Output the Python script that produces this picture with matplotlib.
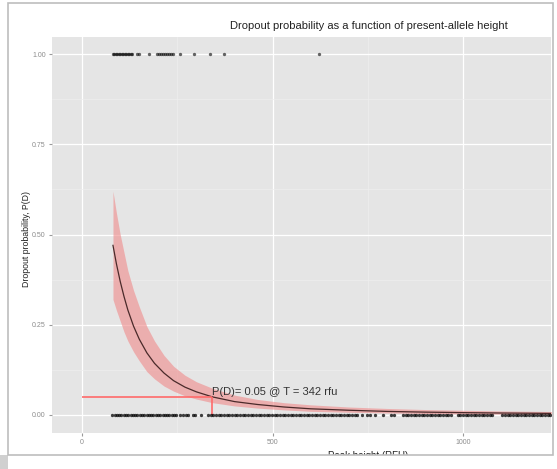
import matplotlib
matplotlib.use("Agg")
import matplotlib.pyplot as plt
from matplotlib.patches import Rectangle
import numpy as np

plt.rcParams['font.family'] = ['Liberation Sans', 'DejaVu Sans']

# 관측값: 대립유전자 탈락(1) / 검출(0) 의 peak height (RFU)
heights_dropout = [80, 84, 88, 92, 96, 100, 104, 108, 112, 116, 120, 124, 128, 131,
                   144, 150, 176, 197, 202, 207, 212, 217, 222, 227, 232, 238,
                   257, 294, 336, 373, 622]
heights_present = [79, 85, 91, 97, 103, 109, 115, 121, 127, 133, 139, 145, 151, 157,
                   163, 169, 175, 181, 187, 193, 199, 205, 211, 217, 223, 229, 235,
                   241, 247, 258, 264, 272, 279, 290, 296, 312,
                   330, 337, 344, 351, 358, 365, 372, 379, 386, 393, 400, 407, 414,
                   421, 428, 435, 442, 449, 456, 463, 470, 477, 484, 491, 498, 505,
                   512, 519, 526, 533, 540, 547, 554, 561, 568, 575, 582, 589, 596,
                   603, 610, 617, 624, 631, 638, 645, 652, 659, 666, 673, 680, 687,
                   694, 701, 708, 715, 722, 735, 748, 756, 770, 790, 812, 818,
                   842, 849, 856, 863, 870, 877, 884, 891, 898, 905, 912, 919, 926,
                   933, 940, 947, 954, 961, 968, 986, 993, 1000, 1007, 1014, 1021,
                   1028, 1035, 1042, 1049, 1056, 1063, 1070, 1077, 1103, 1110, 1117,
                   1124, 1131, 1138, 1145, 1152, 1159, 1166, 1173, 1180, 1187, 1194,
                   1201, 1208, 1215, 1222, 1229, 1236]

# 로지스틱 적합 곡선과 신뢰구간
fit_h = [81, 90, 100, 110, 120, 135, 150, 170, 190, 215, 240, 270, 300, 342,
         400, 460, 530, 600, 700, 800, 900, 1000, 1100, 1231, 1300]
fit_p = [0.470, 0.419, 0.370, 0.328, 0.291, 0.246, 0.210, 0.172, 0.143, 0.116,
         0.095, 0.077, 0.064, 0.050, 0.037, 0.029, 0.022, 0.017, 0.013, 0.0098,
         0.0078, 0.0064, 0.0053, 0.0043, 0.0039]
fit_hi = [0.62, 0.56, 0.50, 0.45, 0.40, 0.345, 0.30, 0.245, 0.205, 0.165, 0.135,
          0.11, 0.092, 0.074, 0.055, 0.043, 0.034, 0.028, 0.022, 0.018, 0.015,
          0.013, 0.011, 0.0095, 0.009]
fit_lo = [0.32, 0.29, 0.26, 0.23, 0.205, 0.175, 0.15, 0.12, 0.10, 0.08, 0.066,
          0.053, 0.044, 0.034, 0.025, 0.019, 0.014, 0.010, 0.0075, 0.0055, 0.004,
          0.003, 0.0023, 0.0017, 0.0015]

threshold_p = 0.05
threshold_t = 342

x_ticks = [0, 500, 1000]
y_ticks = [0.00, 0.25, 0.50, 0.75, 1.00]


def main():
    fig = plt.figure(figsize=(5.57, 4.69), dpi=100)
    fig.patch.set_facecolor("white")
    ax = fig.add_axes([0.0934, 0.0768, 0.896, 0.844])

    # ggplot 스타일 배경
    ax.set_facecolor("#E5E5E5")
    for s in ax.spines.values():
        s.set_visible(False)
    ax.set_xticks(x_ticks)
    ax.set_yticks(y_ticks)
    ax.set_xticks([250, 750], minor=True)
    ax.set_yticks([0.125, 0.375, 0.625, 0.875], minor=True)
    ax.grid(which="major", color="white", lw=0.9)
    ax.grid(which="minor", color="#EFEFEF", lw=0.5)
    ax.set_axisbelow(True)
    ax.tick_params(which="major", length=2.5, color="#999999", labelcolor="#8C8C8C",
                   labelsize=5, pad=2)
    ax.tick_params(which="minor", length=0)
    ax.set_xticklabels([str(t) for t in x_ticks])
    ax.set_yticklabels(["%.2f" % t for t in y_ticks])

    # 신뢰구간과 적합선
    ax.fill_between(fit_h, fit_lo, fit_hi, color="#F08A8A", alpha=0.6, lw=0, zorder=2)
    ax.plot(fit_h, fit_p, color="#4A2A2A", lw=0.9, zorder=3)

    # 관측점
    ax.plot(heights_dropout, np.ones(len(heights_dropout)), "o", color="black",
            ms=2.4, alpha=0.6, mec="none", zorder=4)
    ax.plot(heights_present, np.zeros(len(heights_present)), "o", color="black",
            ms=2.4, alpha=0.75, mec="none", zorder=4)

    # 임계값 표시
    ax.plot([0, threshold_t], [threshold_p, threshold_p], color="#FF6A6A", lw=1.2,
            zorder=3, solid_capstyle="butt")
    ax.plot([threshold_t, threshold_t], [0, threshold_p], color="#FF6A6A", lw=1.2,
            zorder=3, solid_capstyle="butt")
    ax.text(threshold_t, threshold_p, "P(D)= 0.05 @ T = 342 rfu", fontsize=8,
            color="#333333", ha="left", va="bottom", zorder=5)

    ax.set_xlim(-79, 1231)
    ax.set_ylim(-0.05, 1.047)

    ax.set_ylabel("Dropout probability, P(D)", fontsize=6.3, color="#222222", labelpad=0)
    ax.yaxis.set_label_coords(-0.042, 0.49)
    ax.set_xlabel("Peak height (RFU)", fontsize=7, color="#222222")
    ax.xaxis.set_label_coords(0.634, -0.045)
    fig.text(0.662, 0.934, "Dropout probability as a function of present-allele height",
             fontsize=8, ha="center", va="bottom", color="#222222")

    # 스크린샷 테두리
    fig.patches.append(Rectangle((0, 0), 1, 1 - 455 / 469, transform=fig.transFigure,
                                 facecolor="white", edgecolor="none", zorder=10))
    fig.patches.append(Rectangle((0, 0), 8 / 557, 1 - 455 / 469, transform=fig.transFigure,
                                 facecolor="#D0D0D0", edgecolor="none", zorder=11))
    fig.patches.append(Rectangle((8 / 557, 1 - 455 / 469), 545 / 557, 452 / 469,
                                 transform=fig.transFigure, facecolor="none",
                                 edgecolor="#BDBDBD", lw=1.2, zorder=11))

    fig.savefig("out.png", dpi=100)


if __name__ == "__main__":
    main()
